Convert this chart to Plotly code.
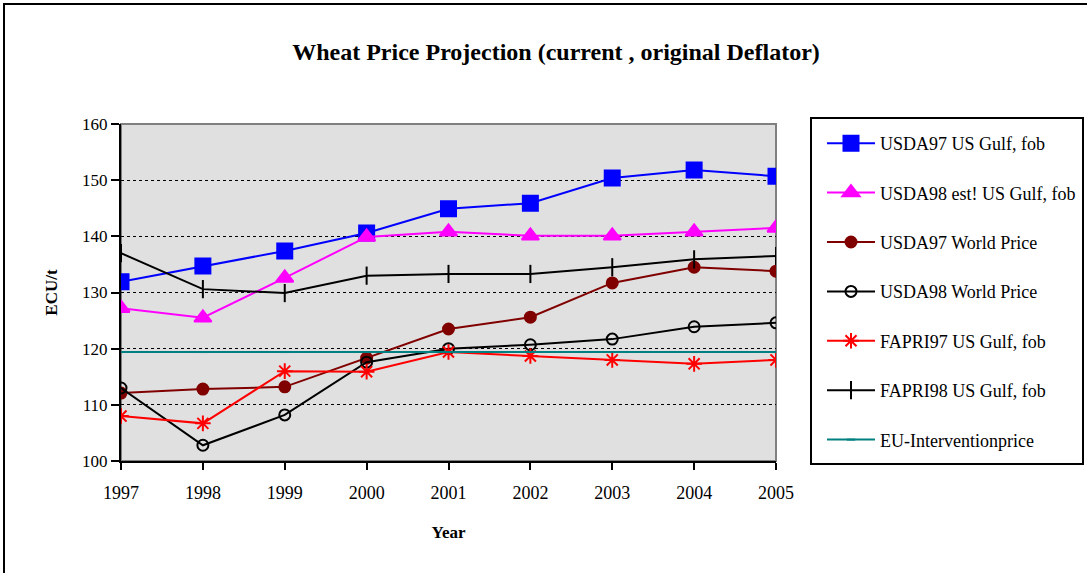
import plotly.graph_objects as go

years = [1997, 1998, 1999, 2000, 2001, 2002, 2003, 2004, 2005]

usda97_gulf = [131.9, 134.7, 137.4, 140.6, 144.9, 145.9, 150.4, 151.8, 150.7]
usda98_gulf = [127.2, 125.5, 132.6, 139.9, 140.8, 140.1, 140.1, 140.8, 141.5]
usda97_world = [112.1, 112.8, 113.2, 118.3, 123.5, 125.6, 131.7, 134.5, 133.8]
usda98_world = [113.0, 102.8, 108.2, 117.6, 120.0, 120.7, 121.7, 123.9, 124.6]
fapri97_gulf = [108.0, 106.7, 116.0, 115.9, 119.4, 118.7, 118.0, 117.3, 118.0]
fapri98_gulf = [137.0, 130.6, 129.9, 133.0, 133.3, 133.3, 134.5, 135.9, 136.5]
eu_intervention = [119.4] * 9

series = [
    ("USDA97 US Gulf, fob", usda97_gulf, "#0000FF", "square", 15),
    ("USDA98 est! US Gulf, fob", usda98_gulf, "#FF00FF", "triangle-up", 15),
    ("USDA97 World Price", usda97_world, "#800000", "circle", 11),
    ("USDA98 World Price", usda98_world, "#000000", "circle-open", 11),
    ("FAPRI97 US Gulf, fob", fapri97_gulf, "#FF0000", "asterisk-open", 13),
    ("FAPRI98 US Gulf, fob", fapri98_gulf, "#000000", "line-ns-open", 13),
    ("EU-Interventionprice", eu_intervention, "#008080", "line-ew-open", 6),
]

font = "Liberation Serif, Times New Roman, serif"

fig = go.Figure()
for i, (name, vals, col, sym, sz) in enumerate(series):
    fig.add_trace(go.Scatter(
        x=years, y=vals, name=name, mode="lines+markers",
        line=dict(color=col, width=2),
        marker=dict(symbol=sym, size=sz, color=col, line=dict(color=col, width=2)),
        legendgroup=str(i),
    ))

# plot area in page pixels: x 121..776, y 124..461
L, R, T, B = 121, 776, 124, 461
W, H = 1087, 573
pw, ph = R - L, B - T

def px(x):
    return (x - L) / pw

def py(y):
    return (B - y) / ph

fig.update_layout(
    width=W, height=H,
    margin=dict(l=L, r=W - R, t=T, b=H - B, autoexpand=False),
    paper_bgcolor="white",
    plot_bgcolor="#E0E0E0",
    font=dict(family=font, size=16, color="black"),
    title=dict(text="<b>Wheat Price Projection (current , original Deflator)</b>",
               x=556 / W, xref="container", xanchor="center",
               y=1 - 52 / H, yref="container", yanchor="middle",
               font=dict(size=24, family=font)),
    showlegend=True,
    legend=dict(x=822 / W, xref="container", y=1 - 125 / H, yref="container",
                xanchor="left", yanchor="top",
                bgcolor="rgba(0,0,0,0)", borderwidth=0, maxheight=600,
                itemwidth=48, tracegroupgap=23,
                font=dict(size=18, family=font)),
    shapes=[
        # outer chart frame
        dict(type="rect", xref="paper", yref="paper",
             x0=px(4), x1=px(1095), y0=py(585), y1=py(4),
             line=dict(color="black", width=2), layer="below"),
        # plot area border
        dict(type="rect", xref="paper", yref="paper", x0=0, x1=1, y0=0, y1=1,
             line=dict(color="#808080", width=2), layer="below"),
        # legend box
        dict(type="rect", xref="paper", yref="paper",
             x0=px(811), x1=px(1083), y0=py(464), y1=py(118),
             line=dict(color="black", width=2), fillcolor="white", layer="below"),
    ],
)

fig.update_xaxes(
    range=[1997, 2005], tickmode="array", tickvals=years,
    ticktext=[str(y) for y in years],
    tickfont=dict(size=18),
    showgrid=False, zeroline=False,
    showline=True, linecolor="black", linewidth=2,
    ticks="outside", ticklen=7, tickwidth=2, tickcolor="black",
    ticklabelstandoff=7,
    title=dict(text="<b>Year</b>", font=dict(size=17, family=font), standoff=25),
)
fig.update_yaxes(
    range=[100, 160], dtick=10, tick0=100,
    tickfont=dict(size=17),
    showgrid=True, gridcolor="black", gridwidth=1, griddash="dot",
    zeroline=False,
    showline=True, linecolor="black", linewidth=2,
    ticks="outside", ticklen=8, tickwidth=2, tickcolor="black",
    title=dict(text="<b>ECU/t</b>", font=dict(size=17, family=font), standoff=20),
)

fig.write_html("out.html", config={"displayModeBar": False},
               post_script="document.body.style.margin='0';")
